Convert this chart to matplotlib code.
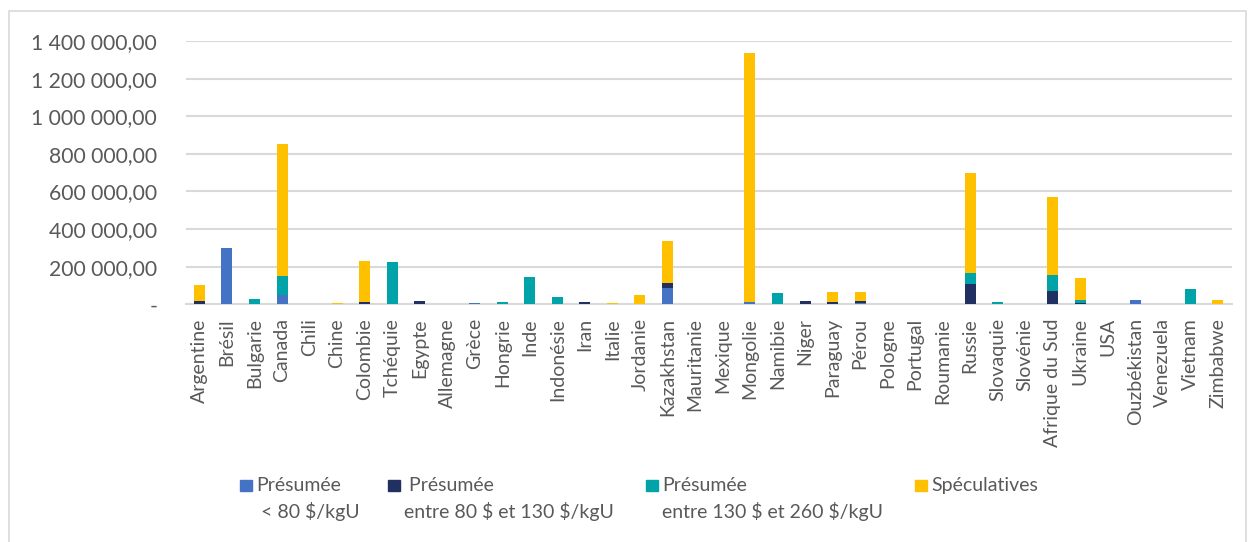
import matplotlib
matplotlib.use("Agg")
import matplotlib.pyplot as plt
from matplotlib.patches import Rectangle
from matplotlib.ticker import FuncFormatter
import numpy as np

plt.rcParams["font.family"] = ["Lato", "DejaVu Sans"]

# --- données (tonnes d'uranium) ---
pays = ["Argentine", "Brésil", "Bulgarie", "Canada", "Chili", "Chine", "Colombie",
        "Tchéquie", "Egypte", "Allemagne", "Grèce", "Hongrie", "Inde", "Indonésie",
        "Iran", "Italie", "Jordanie", "Kazakhstan", "Mauritanie", "Mexique",
        "Mongolie", "Namibie", "Niger", "Paraguay", "Pérou", "Pologne", "Portugal",
        "Roumanie", "Russie", "Slovaquie", "Slovénie", "Afrique du Sud", "Ukraine",
        "USA", "Ouzbékistan", "Venezuela", "Vietnam", "Zimbabwe"]

presumee_80 = [0, 301000, 0, 51000, 0, 3000, 0, 0, 0, 0, 5000, 0, 0, 0,
               0, 0, 0, 87000, 0, 3000, 14000, 0, 0, 0, 5000, 0, 4000,
               2000, 0, 0, 3000, 0, 0, 0, 24000, 0, 0, 0]
presumee_80_130 = [19000, 0, 0, 0, 0, 0, 12000, 0, 15000, 0, 0, 0, 0, 0,
                   10000, 0, 0, 28000, 0, 0, 0, 0, 17000, 12000, 15000, 0, 0,
                   0, 110000, 0, 0, 72000, 8000, 0, 0, 0, 0, 0]
presumee_130_260 = [0, 0, 27000, 100000, 3000, 0, 0, 225000, 0, 0, 0, 13000,
                    144000, 40000, 0, 0, 0, 0, 0, 0, 0, 60000, 0, 0, 0, 0, 0,
                    0, 55000, 10000, 0, 86000, 16000, 0, 0, 0, 81000, 0]
speculatives = [82000, 0, 0, 700000, 0, 2000, 218000, 0, 0, 0, 0, 0, 0, 0,
                0, 8000, 51000, 222000, 0, 0, 1320000, 0, 0, 53000, 47000, 0, 0,
                2000, 532000, 0, 0, 415000, 118000, 0, 0, 0, 0, 24000]

series = [
    ("Présumée\n < 80 \\$/kgU", presumee_80, "#4472C4"),
    (" Présumée\nentre 80 \\$ et 130 \\$/kgU", presumee_80_130, "#203060"),
    ("Présumée\nentre 130 \\$ et 260 \\$/kgU", presumee_130_260, "#00A3A8"),
    ("Spéculatives", speculatives, "#FFC000"),
]

GRIS_TEXTE = "#595959"
GRIS_GRILLE = "#D9D9D9"

fig = plt.figure(figsize=(12.49, 5.42), dpi=100)
W, H = 1249, 542
ax = fig.add_axes([185.7 / W, 1 - 304.3 / H, (1231.7 - 185.7) / W, (304.3 - 41) / H])

x = np.arange(len(pays))
bas = np.zeros(len(pays))
for nom, vals, couleur in series:
    vals = np.array(vals, dtype=float)
    ax.bar(x, vals, width=0.4, bottom=bas, color=couleur, zorder=3)
    bas += vals

ax.set_xlim(-0.5, len(pays) - 0.5)
ax.set_ylim(0, 1400000)
ax.set_yticks(np.arange(0, 1400001, 200000))


def fmt_fr(v, pos):
    if v == 0:
        return "-"
    return f"{v:,.2f}".replace(",", " ").replace(".", ",")


ax.yaxis.set_major_formatter(FuncFormatter(fmt_fr))
ax.set_xticks(x)
ax.set_xticklabels(pays, rotation=90)
ax.tick_params(axis="both", length=0, colors=GRIS_TEXTE)
ax.tick_params(axis="y", labelsize=15.2, pad=20.5)
ax.tick_params(axis="x", labelsize=14, pad=10)
ax.grid(axis="y", color=GRIS_GRILLE, linewidth=1.5, zorder=0)
for s in ["top", "right", "left"]:
    ax.spines[s].set_visible(False)
ax.spines["bottom"].set_color(GRIS_GRILLE)
ax.spines["bottom"].set_linewidth(1.5)

# légende dessinée à la main (étiquettes sur deux lignes)
leg_patch_x = [240, 388, 646, 915]
leg_text_x = [256, 404, 662, 931]
for (nom, vals, couleur), px, tx in zip(series, leg_patch_x, leg_text_x):
    fig.patches.append(Rectangle((px / W, 1 - 491 / H), 11.5 / W, 11.5 / H,
                                 transform=fig.transFigure, color=couleur))
    for i, ligne in enumerate(nom.split("\n")):
        fig.text(tx / W, 1 - (485.7 + 26 * i) / H, ligne, ha="left", va="center",
                 fontsize=14, color=GRIS_TEXTE)

# cadre de la zone de graphique
fig.patches.append(Rectangle((9 / W, -0.05), 1237 / W, 1.05 - 11 / H,
                             transform=fig.transFigure, fill=False,
                             edgecolor=GRIS_GRILLE, linewidth=1.2))

fig.savefig("out.png", dpi=100)
